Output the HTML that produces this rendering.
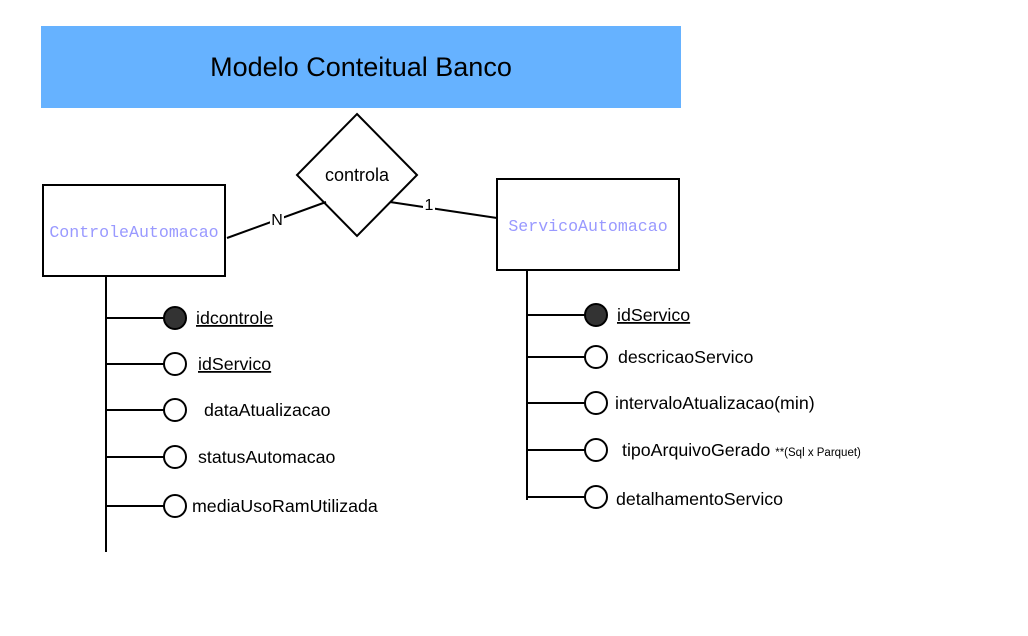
<!DOCTYPE html>
<html><head><style>body{margin:0;background:#fff}svg{display:block}</style></head><body>
<svg width="1028" height="636" xmlns="http://www.w3.org/2000/svg" font-family="Liberation Sans, Arial, sans-serif">
<rect x="41" y="26" width="640" height="82" fill="#66b2ff"/>
<text x="361" y="76" font-size="27" text-anchor="middle">Modelo Conteitual Banco</text>
<g stroke="#000" stroke-width="2" fill="#fff">
<rect x="43" y="185" width="182" height="91"/>
<rect x="497" y="179" width="182" height="91"/>
<polygon points="357,114 417,175 357,236 297,175"/>
<line x1="227" y1="238" x2="326" y2="202" fill="none"/>
<line x1="390" y1="202" x2="497" y2="218" fill="none"/>
<line x1="106" y1="276" x2="106" y2="552"/>
<line x1="527" y1="270" x2="527" y2="500"/>
<line x1="106" y1="318" x2="164" y2="318"/><line x1="106" y1="364" x2="164" y2="364"/>
<line x1="106" y1="410" x2="164" y2="410"/><line x1="106" y1="457" x2="164" y2="457"/>
<line x1="106" y1="506" x2="164" y2="506"/>
<line x1="527" y1="315" x2="585" y2="315"/><line x1="527" y1="357" x2="585" y2="357"/>
<line x1="527" y1="403" x2="585" y2="403"/><line x1="527" y1="450" x2="585" y2="450"/>
<line x1="527" y1="497" x2="585" y2="497"/>
<circle cx="175" cy="318" r="11" fill="#333"/><circle cx="175" cy="364" r="11"/>
<circle cx="175" cy="410" r="11"/><circle cx="175" cy="457" r="11"/><circle cx="175" cy="506" r="11"/>
<circle cx="596" cy="315" r="11" fill="#333"/><circle cx="596" cy="357" r="11"/>
<circle cx="596" cy="403" r="11"/><circle cx="596" cy="450" r="11"/><circle cx="596" cy="497" r="11"/>
</g>
<rect x="270" y="211" width="14" height="16" fill="#fff"/>
<text x="277" y="225" font-size="16" text-anchor="middle">N</text>
<rect x="423" y="196" width="12" height="16" fill="#fff"/>
<text x="429" y="210" font-size="16" text-anchor="middle">1</text>
<text x="357" y="181" font-size="18" text-anchor="middle">controla</text>
<g font-family="Liberation Mono, DejaVu Sans Mono, monospace" font-size="16.6" fill="#9999ff" text-anchor="middle">
<text x="134" y="237">ControleAutomacao</text>
<text x="588" y="231">ServicoAutomacao</text>
</g>
<g font-size="17.8">
<text x="196" y="324" text-decoration="underline">idcontrole</text>
<text x="198" y="370" text-decoration="underline">idServico</text>
<text x="204" y="416">dataAtualizacao</text>
<text x="198" y="463">statusAutomacao</text>
<text x="192" y="512">mediaUsoRamUtilizada</text>
<text x="617" y="321" text-decoration="underline">idServico</text>
<text x="618" y="363">descricaoServico</text>
<text x="615" y="409">intervaloAtualizacao(min)</text>
<text x="622" y="456">tipoArquivoGerado <tspan font-size="11.5">**(Sql x Parquet)</tspan></text>
<text x="616" y="505">detalhamentoServico</text>
</g>
</svg>
</body></html>
